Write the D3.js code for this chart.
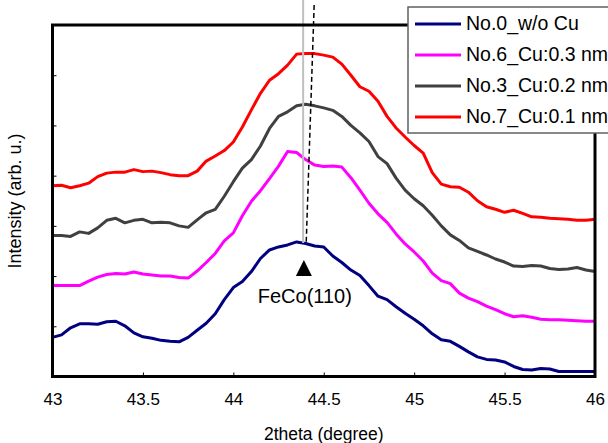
<!DOCTYPE html>
<html>
<head>
<meta charset="utf-8">
<script src="https://cdn.jsdelivr.net/npm/d3@7"></script>
<style>
    body { margin: 0; background: #fff; }
    text { font-family: Arial, "Liberation Sans", sans-serif; fill: #000; }
</style>
</head>
<body>
<div id="chart"></div>
<script>

// 2theta grid, 43.00 .. 46.00 in steps of 0.05
const twoTheta = d3.range(61).map(i => +(43 + i * 0.05).toFixed(2));

const seriesNames = ["No.0_w/o Cu", "No.6_Cu:0.3 nm", "No.3_Cu:0.2 nm", "No.7_Cu:0.1 nm"];
const seriesColors = ["#000080", "#ff00ff", "#404040", "#ff0000"];

// intensities (arb. u., curves offset vertically)
const no0 = [78, 83, 97, 105, 105, 104, 109, 110, 101, 87, 79, 76, 72, 70, 69, 78, 92, 106, 125, 153,
    177, 189, 209, 235, 252, 258, 262, 268, 265, 260, 258, 240, 227, 212, 201, 181, 160, 153, 139, 126,
    114, 101, 85, 73, 70, 60, 49, 39, 34, 33, 29, 20, 14, 13, 16, 15, 10, 10, 10, 10, 10];
const no6 = [181, 181, 181, 181, 190, 198, 203, 205, 204, 208, 204, 202, 200, 200, 197, 196, 210, 227, 245, 270,
    286, 320, 349, 370, 394, 419, 448, 446, 432, 421, 418, 419, 417, 396, 371, 345, 324, 307, 284, 264,
    248, 230, 206, 191, 185, 166, 156, 149, 140, 133, 125, 119, 121, 118, 114, 113, 113, 112, 111, 110, 110];
const no3 = [281, 281, 279, 288, 285, 296, 311, 315, 306, 311, 313, 306, 307, 306, 300, 297, 312, 326, 333, 359,
    388, 415, 432, 459, 494, 518, 527, 539, 542, 539, 535, 530, 518, 500, 485, 468, 438, 424, 395, 371,
    354, 340, 321, 300, 282, 271, 256, 249, 242, 234, 228, 220, 219, 221, 220, 215, 213, 214, 217, 212, 209];
const no7 = [380, 381, 376, 380, 385, 398, 405, 407, 407, 412, 408, 409, 406, 402, 400, 400, 409, 429, 439, 450,
    467, 497, 531, 564, 590, 603, 620, 642, 643, 643, 640, 636, 622, 600, 577, 568, 548, 518, 495, 477,
    460, 445, 406, 383, 378, 377, 367, 350, 338, 333, 327, 331, 325, 318, 317, 315, 314, 313, 311, 311, 313];
const seriesValues = [no0, no6, no3, no7];

const xTicks = [43, 43.5, 44, 44.5, 45, 45.5, 46];
const yTicks = [100, 200, 300, 400, 500, 600];

// FeCo(110) reference lines: [2theta, intensity] end points
const refLine = [[44.386, 750], [44.386, 266]];
const shiftLine = [[44.447, 740], [44.403, 266]];
const peakMark = { x: 44.39, top: 232, base: 200, label: "FeCo(110)" };


class XrdVis {

    constructor(_parentElement) {
        this.parentElement = _parentElement;
        this.displayData = seriesNames.map((name, i) => ({
            name: name,
            color: seriesColors[i],
            points: twoTheta.map((t, j) => ({ t: t, v: seriesValues[i][j] }))
        }));
        this.initVis();
    }

    initVis() {
        let vis = this;

        vis.margin = { top: 25, right: 13, bottom: 66.5, left: 52.5 };
        vis.width = 608 - vis.margin.left - vis.margin.right;
        vis.height = 443 - vis.margin.top - vis.margin.bottom;

        vis.svg = d3.select("#" + vis.parentElement).append("svg")
            .attr("width", 608)
            .attr("height", 443)
            .append("g")
            .attr("transform", "translate(" + vis.margin.left + "," + vis.margin.top + ")");

        vis.x = d3.scaleLinear().domain([43, 46]).range([0, vis.width]);
        vis.y = d3.scaleLinear().domain([0, 700]).range([vis.height, 0]);

        // axes with inward ticks
        vis.xAxis = d3.axisBottom(vis.x).tickValues(xTicks)
            .tickSizeInner(-4).tickSizeOuter(0).tickPadding(16)
            .tickFormat(d3.format(""));
        vis.yAxis = d3.axisLeft(vis.y).tickValues(yTicks)
            .tickSizeInner(-4).tickSizeOuter(0).tickFormat("");

        vis.updateVis();
    }

    updateVis() {
        let vis = this;

        vis.svg.append("g")
            .attr("class", "axis x-axis")
            .attr("transform", "translate(0," + vis.height + ")")
            .call(vis.xAxis)
            .call(g => g.select(".domain").remove())
            .call(g => g.selectAll(".tick line").attr("stroke", "#000").attr("stroke-width", 1))
            .call(g => g.selectAll(".tick text").attr("font-size", 17));

        vis.svg.append("g")
            .attr("class", "axis y-axis")
            .call(vis.yAxis)
            .call(g => g.select(".domain").remove())
            .call(g => g.selectAll(".tick line").attr("stroke", "#000").attr("stroke-width", 1));

        // curves
        const line = d3.line()
            .x(d => vis.x(d.t))
            .y(d => vis.y(d.v))
            .curve(d3.curveLinear);

        vis.svg.selectAll(".line")
            .data(vis.displayData)
            .enter()
            .append("path")
            .attr("class", "line")
            .attr("d", d => line(d.points))
            .attr("fill", "none")
            .attr("stroke", d => d.color)
            .attr("stroke-width", 3)
            .attr("stroke-linejoin", "round");

        // reference lines for FeCo(110)
        const seg = d3.line().x(d => vis.x(d[0])).y(d => vis.y(d[1]));
        vis.svg.append("path")
            .attr("d", seg(refLine))
            .attr("stroke", "#c0c0c0")
            .attr("stroke-width", 2)
            .attr("fill", "none");
        vis.svg.append("path")
            .attr("d", seg(shiftLine))
            .attr("stroke", "#000")
            .attr("stroke-width", 1.5)
            .attr("stroke-dasharray", "5,3")
            .attr("fill", "none");

        // marker + label
        let px = vis.x(peakMark.x);
        let yTop = vis.y(peakMark.top), yBase = vis.y(peakMark.base);
        vis.svg.append("path")
            .attr("d", "M" + px + "," + yTop + "L" + (px + 8) + "," + yBase + "L" + (px - 8) + "," + yBase + "Z")
            .attr("fill", "#000");
        vis.svg.append("text")
            .attr("x", px + 1)
            .attr("y", yBase + 27)
            .attr("text-anchor", "middle")
            .attr("font-size", 20)
            .text(peakMark.label);

        // frame
        vis.svg.append("rect")
            .attr("width", vis.width)
            .attr("height", vis.height)
            .attr("fill", "none")
            .attr("stroke", "#000")
            .attr("stroke-width", 3);

        // axis titles
        vis.svg.append("text")
            .attr("x", vis.width / 2)
            .attr("y", vis.height + 63)
            .attr("text-anchor", "middle")
            .attr("font-size", 17.5)
            .text("2theta (degree)");

        vis.svg.append("text")
            .attr("transform", "translate(" + (21 - vis.margin.left) + "," + (201 - vis.margin.top) + ") rotate(-90)")
            .attr("text-anchor", "middle")
            .attr("font-size", 18)
            .text("Intensity (arb. u.)");

        // legend
        let legend = vis.svg.append("g")
            .attr("transform", "translate(" + (408 - vis.margin.left) + "," + (7 - vis.margin.top) + ")");
        legend.append("rect")
            .attr("width", 220)
            .attr("height", 126)
            .attr("fill", "#fff")
            .attr("stroke", "#606060")
            .attr("stroke-width", 1.5);

        let items = legend.selectAll(".legend-item")
            .data(vis.displayData)
            .enter()
            .append("g")
            .attr("class", "legend-item")
            .attr("transform", (d, i) => "translate(0," + (17 + i * 31) + ")");
        items.append("line")
            .attr("x1", 7).attr("x2", 53)
            .attr("stroke", d => d.color)
            .attr("stroke-width", 3);
        items.append("text")
            .attr("x", 58)
            .attr("y", 6)
            .attr("font-size", 19.5)
            .text(d => d.name);
    }
}

new XrdVis("chart");

</script>
</body>
</html>
